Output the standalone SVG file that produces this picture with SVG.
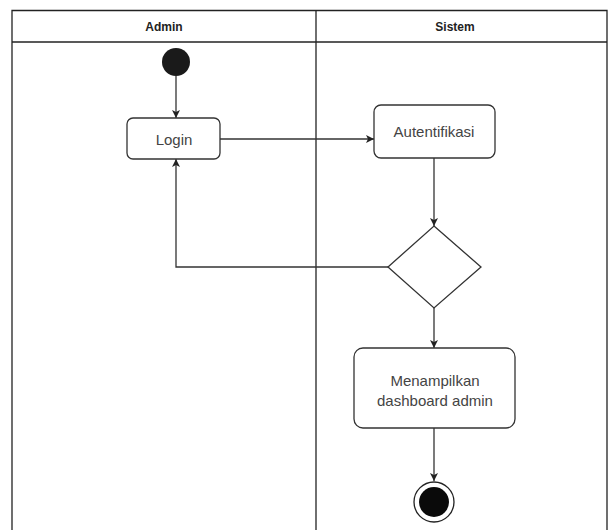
<svg xmlns="http://www.w3.org/2000/svg" width="609" height="530" viewBox="0 0 609 530">
  <style>
    .lane { fill: none; stroke: #222; stroke-width: 1.3; }
    .head { font-family: "Liberation Sans", Arial, sans-serif; font-size: 12px; font-weight: bold; fill: #222; text-anchor: middle; }
    .box { fill: #fff; stroke: #333; stroke-width: 1.3; }
    .lbl { font-family: "Liberation Sans", Arial, sans-serif; font-size: 15px; fill: #444; text-anchor: middle; }
    .edge { fill: none; stroke: #333; stroke-width: 1.3; }
  </style>
  <defs>
    <marker id="arrow" viewBox="0 0 10 10" refX="10" refY="5" markerWidth="8" markerHeight="8" markerUnits="userSpaceOnUse" orient="auto">
      <path d="M0,0 L10,5 L0,10 L2.5,5 Z" fill="#222"/>
    </marker>
  </defs>
  <rect width="609" height="530" fill="#fff"/>

  <!-- swimlanes -->
  <g id="lanes">
    <path class="lane" d="M12,530 V10.5 H607 V530"/>
    <line class="lane" x1="12" y1="42" x2="607" y2="42"/>
    <line class="lane" x1="316" y1="10.5" x2="316" y2="530"/>
    <text class="head" x="164" y="31">Admin</text>
    <text class="head" x="455" y="31">Sistem</text>
  </g>

  <!-- connectors -->
  <g id="connectors">
    <line class="edge" x1="176" y1="76" x2="176" y2="118" marker-end="url(#arrow)"/>
    <line class="edge" x1="220" y1="139" x2="374" y2="139" marker-end="url(#arrow)"/>
    <line class="edge" x1="434" y1="158" x2="434" y2="226" marker-end="url(#arrow)"/>
    <polyline class="edge" points="388,267 176,267 176,159" marker-end="url(#arrow)"/>
    <line class="edge" x1="434" y1="308" x2="434" y2="348" marker-end="url(#arrow)"/>
    <line class="edge" x1="434" y1="428" x2="434" y2="481" marker-end="url(#arrow)"/>
  </g>

  <g id="start">
    <circle cx="176" cy="62" r="14" fill="#1a1a1a"/>
  </g>

  <g id="login">
    <rect class="box" x="127" y="118" width="93" height="41" rx="6"/>
    <text class="lbl" x="174" y="144.5">Login</text>
  </g>

  <g id="autentifikasi">
    <rect class="box" x="374" y="105" width="121" height="53" rx="7"/>
    <text class="lbl" x="434" y="136.5">Autentifikasi</text>
  </g>

  <g id="decision">
    <polygon class="box" points="434,226 481,267 434,308 388,267"/>
  </g>

  <g id="dashboard">
    <rect class="box" x="354" y="348" width="161" height="80" rx="9"/>
    <text class="lbl" x="435" y="386">Menampilkan</text>
    <text class="lbl" x="435" y="406">dashboard admin</text>
  </g>

  <g id="end">
    <circle cx="434" cy="502" r="20" fill="#fff" stroke="#222" stroke-width="1.3"/>
    <circle cx="434" cy="502" r="15" fill="#0a0a0a"/>
  </g>
</svg>
